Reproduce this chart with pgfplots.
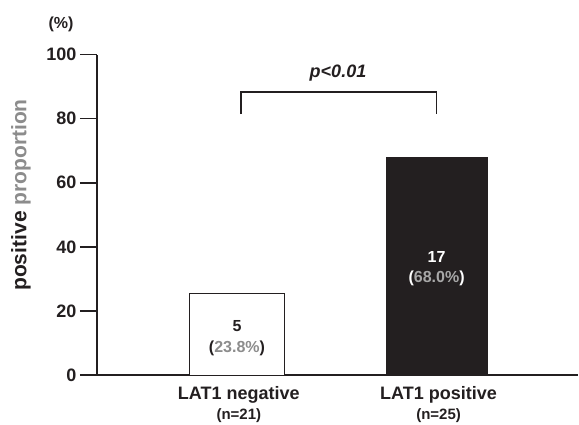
\documentclass[border=0pt]{standalone}
\usepackage{fontspec}
\setmainfont{Liberation Sans}
\usepackage{pgfplots}
\pgfplotsset{compat=1.18}
\definecolor{ink}{HTML}{231F20}
\definecolor{gry}{HTML}{8C8C8C}
\definecolor{lgry}{HTML}{A8A8A8}
\newcommand{\fs}[1]{\fontsize{#1}{#1}\selectfont}
\begin{document}
\begin{tikzpicture}[x=1pt,y=1pt]
\useasboundingbox (0,0) rectangle (579,424);
\begin{axis}[
  at={(97pt,49pt)}, anchor=south west,
  scale only axis, width=481pt, height=320.4pt,
  axis x line=bottom, axis y line=left,
  axis line style={-, ink, line width=1.6pt},
  xmin=-0.7, xmax=1.708, ymin=0, ymax=100,
  ytick={0,20,40,60,80,100},
  xtick={0,1},
  xticklabels={{LAT1 negative\\[2pt]{\fs{15}(n=21)}},{LAT1 positive\\[2pt]{\fs{15}(n=25)}}},
  xticklabel style={align=center, font=\bfseries\fs{18}, text=ink, yshift=9pt, xshift=2pt},
  yticklabel style={font=\bfseries\fs{18}, text=ink},
  /pgf/number format/assume math mode=true,
  tick align=outside,
  major tick length=17pt,
  y tick style={ink, line width=1.6pt},
  x tick style={draw=none},
  clip=false,
]
\addplot[ybar, bar shift=0pt, bar width=95pt, fill=white, draw=ink, line width=1pt] coordinates {(0,25.4)};
\addplot[ybar, bar shift=0pt, bar width=101pt, fill=ink, draw=ink, line width=0.5pt] coordinates {(1,68)};
\draw[ink, line width=1.6pt] (axis cs:0.02,81.4) -- (axis cs:0.02,88.4) -- (axis cs:1.0,88.4) -- (axis cs:1.0,81.4);
\end{axis}
\node[ink, font=\bfseries\fs{16}] at (61,400) {(\%)};
\node[rotate=90, font=\bfseries\fs{21}] at (21,229) {\textcolor{ink}{positive} \textcolor{gry}{proportion}};
\node[ink, font=\bfseries\itshape\fs{18}] at (338,351) {p<0.01};
\node[ink, font=\bfseries\fs{16}] at (237,424-326) {5};
\node[font=\bfseries\fs{16}] at (237,424-348) {\textcolor{ink}{(}\textcolor{gry}{23.8\%}\textcolor{ink}{)}};
\node[white, font=\bfseries\fs{16}] at (436.6,424-257) {17};
\node[font=\bfseries\fs{16}] at (436.6,424-278.5) {\textcolor{white}{(}\textcolor{lgry}{68.0\%}\textcolor{white}{)}};
\end{tikzpicture}
\end{document}
